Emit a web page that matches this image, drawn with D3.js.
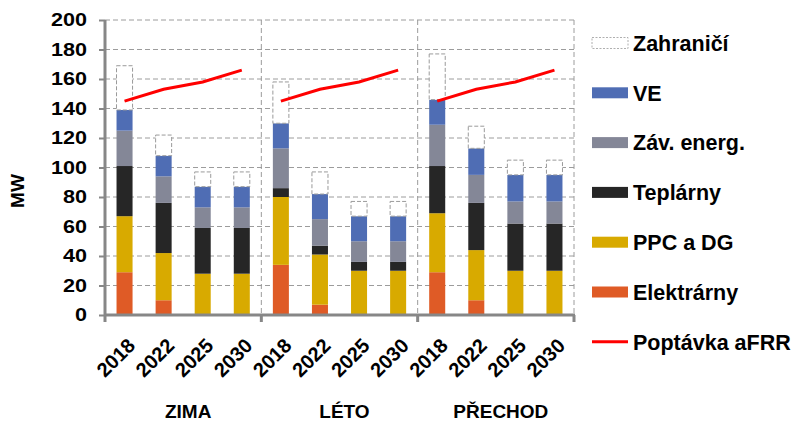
<!DOCTYPE html>
<html>
<head>
<meta charset="utf-8">
<script src="https://cdn.jsdelivr.net/npm/d3@7"></script>
<style>
  body { margin: 0; background: #fff; }
  text { font-family: "Liberation Sans", Arial, sans-serif; font-weight: bold; fill: #000; }
</style>
</head>
<body>
<div id="chart"></div>
<script>
// seasons and years on the category axis
var seasons = ["ZIMA", "LÉTO", "PŘECHOD"]
var years = ["2018", "2022", "2025", "2030"]

// stacked segments (MW), 12 values each: ZIMA x4, LÉTO x4, PŘECHOD x4
var elektrarny = [29, 10, 0, 0, 34, 7, 0, 0, 29, 10, 0, 0]
var ppc = [38, 32, 28, 28, 46, 34, 30, 30, 40, 34, 30, 30]
var teplarny = [34, 34, 31, 31, 6, 6, 6, 6, 32, 32, 32, 32]
var zavEnerg = [24, 18, 14, 14, 27, 18, 14, 14, 28, 19, 15, 15]
var ve = [14, 14, 14, 14, 17, 17, 17, 17, 17, 18, 18, 18]
var zahranici = [30, 14, 10, 10, 28, 15, 10, 10, 31, 15, 10, 10]

// aFRR demand per year, same in each season
var poptavka = [145, 153, 158, 166]

var yTicks = [0, 20, 40, 60, 80, 100, 120, 140, 160, 180, 200]

var series = [
    { key: "elektrarny", name: "Elektrárny", values: elektrarny, color: "#df5b26" },
    { key: "ppc", name: "PPC a DG", values: ppc, color: "#d8aa00" },
    { key: "teplarny", name: "Teplárny", values: teplarny, color: "#262626" },
    { key: "zav", name: "Záv. energ.", values: zavEnerg, color: "#848797" },
    { key: "ve", name: "VE", values: ve, color: "#4f6db4" },
    { key: "zahr", name: "Zahraničí", values: zahranici, color: "#fff" }
]

var rows = []
seasons.forEach((s, i) => {
    years.forEach((yr, j) => {
        var row = { id: s + "|" + yr, season: s, year: yr, demand: poptavka[j] }
        series.forEach((ser) => { row[ser.key] = ser.values[i * 4 + j] })
        rows.push(row)
    })
})

var W = 796, H = 422
var plotL = 105, plotR = 574, plotT = 20, plotB = 315

var svg = d3.select("#chart").append("svg")
    .attr("width", W)
    .attr("height", H)

var x = d3.scaleBand()
    .domain(rows.map((r) => r.id))
    .range([plotL, plotR])
    .paddingInner(0.59)
    .paddingOuter(0.295)

var y = d3.scaleLinear().domain([0, 200]).range([plotB, plotT])

var grid = "#9c9c9c", axisCol = "#878787"

// dashed grid
svg.append("g").selectAll("line")
    .data(yTicks.filter((d) => d > 0))
    .enter().append("line")
    .attr("x1", plotL).attr("x2", plotR)
    .attr("y1", (d) => y(d)).attr("y2", (d) => y(d))
    .attr("stroke", grid).attr("stroke-dasharray", "5,3")

var groupEdges = seasons.map((s) => x(s + "|2030") + x.bandwidth() + x.step() * x.paddingOuter())
svg.append("g").selectAll("line")
    .data(groupEdges)
    .enter().append("line")
    .attr("x1", (d) => d).attr("x2", (d) => d)
    .attr("y1", plotT).attr("y2", plotB)
    .attr("stroke", grid).attr("stroke-dasharray", "5,3")

// stacked bars
var stack = d3.stack().keys(series.map((s) => s.key))(rows)

svg.append("g").selectAll("g")
    .data(stack)
    .enter().append("g")
    .each(function (layer, i) {
        var ser = series[i]
        d3.select(this).selectAll("rect")
            .data(layer.filter((d) => d[1] - d[0] > 0))
            .enter().append("rect")
            .attr("x", (d) => x(d.data.id))
            .attr("width", x.bandwidth())
            .attr("y", (d) => y(d[1]))
            .attr("height", (d) => y(d[0]) - y(d[1]))
            .attr("fill", ser.color)
            .attr("stroke", ser.key == "zahr" ? "#9a9a9a" : "none")
            .attr("stroke-dasharray", ser.key == "zahr" ? "4,2" : null)
    })

// demand line, one per season
var line = d3.line()
    .x((d) => x(d.id) + x.bandwidth() / 2)
    .y((d) => y(d.demand))

seasons.forEach((s) => {
    svg.append("path")
        .datum(rows.filter((r) => r.season == s))
        .attr("d", line)
        .attr("fill", "none")
        .attr("stroke", "#ff0000")
        .attr("stroke-width", 3)
})

// y axis
var yAxis = svg.append("g")
    .attr("transform", `translate(${plotL},0)`)
    .call(d3.axisLeft(y).tickValues(yTicks).tickSize(6).tickPadding(12))
yAxis.select(".domain").attr("stroke", axisCol).attr("stroke-width", 3)
    .attr("d", `M0,${plotT}V${plotB + 7}`)
yAxis.selectAll(".tick line").attr("stroke", axisCol).attr("stroke-width", 2)
yAxis.selectAll("text").style("font-size", "18px").attr("fill", "#000").attr("font-family", null)
    .attr("textLength", (d) => d >= 100 ? 36 : d > 0 ? 24 : 12)
    .attr("lengthAdjust", "spacingAndGlyphs")

// x axis: line plus ticks on group edges
svg.append("line")
    .attr("x1", plotL).attr("x2", plotR + 1)
    .attr("y1", plotB).attr("y2", plotB)
    .attr("stroke", axisCol).attr("stroke-width", 3)
svg.append("g").selectAll("line")
    .data(groupEdges)
    .enter().append("line")
    .attr("x1", (d) => d).attr("x2", (d) => d)
    .attr("y1", plotB).attr("y2", plotB + 7)
    .attr("stroke", axisCol).attr("stroke-width", 3)

svg.append("g").selectAll("text")
    .data(rows)
    .enter().append("text")
    .attr("transform", (d) => `translate(${x(d.id) + x.bandwidth() / 2 + 2},${plotB + 22}) rotate(-45)`)
    .attr("text-anchor", "end")
    .attr("dy", "0.7em")
    .style("font-size", "20px")
    .text((d) => d.year)

svg.append("g").selectAll("text")
    .data(seasons)
    .enter().append("text")
    .attr("x", (d, i) => (x(d + "|2018") - x.step() * x.paddingOuter() + groupEdges[i]) / 2 + 5)
    .attr("y", 418)
    .attr("text-anchor", "middle")
    .style("font-size", "19px")
    .text((d) => d)

svg.append("text")
    .attr("transform", "translate(24,191) rotate(-90)")
    .attr("text-anchor", "middle")
    .style("font-size", "19px")
    .text("MW")

// legend
var legendItems = series.slice().reverse().concat([{ key: "line", name: "Poptávka aFRR", color: "#ff0000" }])
var lg = svg.append("g").selectAll("g")
    .data(legendItems)
    .enter().append("g")
    .attr("transform", (d, i) => `translate(592,${43 + i * 49.8})`)

lg.each(function (d) {
    var g = d3.select(this)
    if (d.key == "line") {
        g.append("line").attr("x1", 0).attr("x2", 36).attr("y1", 0).attr("y2", 0)
            .attr("stroke", d.color).attr("stroke-width", 3)
    } else {
        g.append("rect").attr("x", 0).attr("y", -5.5).attr("width", 36).attr("height", 11)
            .attr("fill", d.color)
            .attr("stroke", d.key == "zahr" ? "#9a9a9a" : "none")
            .attr("stroke-width", 0.8)
            .attr("stroke-dasharray", d.key == "zahr" ? "2,1.5" : null)
    }
})
lg.append("text")
    .attr("x", 41)
    .attr("dy", "0.36em")
    .style("font-size", "21.5px")
    .text((d) => d.name)
</script>
</body>
</html>
